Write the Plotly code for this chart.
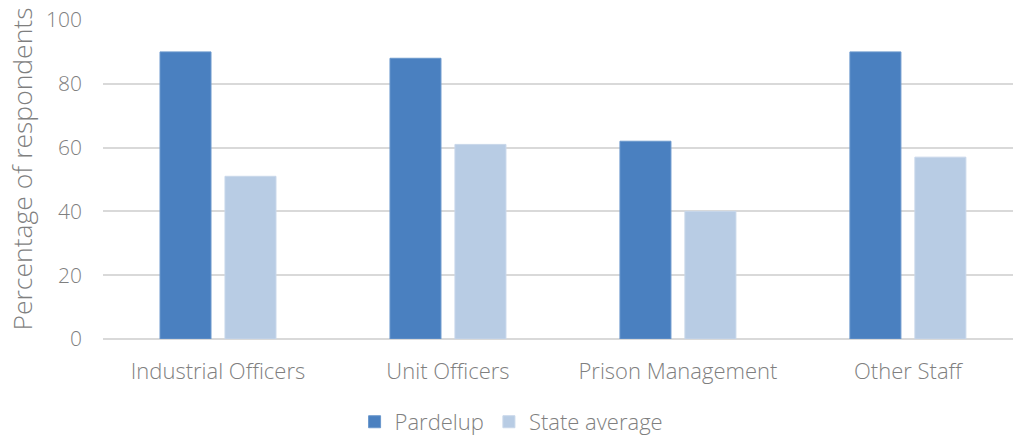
import plotly.graph_objects as go

categories = ["Industrial Officers", "Unit Officers", "Prison Management", "Other Staff"]
pardelup = [90, 88, 62, 90]
state_avg = [51, 61, 40, 57]
y_ticks = [0, 20, 40, 60, 80, 100]
y_title = "Percentage of respondents"

text_color = "#7f7f7f"
font_family = "Open Sans"
fs = 22

fig = go.Figure()
fig.add_trace(go.Bar(x=categories, y=pardelup, name="Pardelup",
                     marker=dict(color="#4a80c0", line=dict(color="#6a97cc", width=1))))
fig.add_trace(go.Bar(x=categories, y=state_avg, name="State average",
                     marker=dict(color="#b8cce4", line=dict(color="#c8d7ea", width=1))))

fig.add_annotation(text=y_title, textangle=-90, xref="paper", yref="paper",
                   x=-(103 - 21.5) / 910, y=(339 - 169) / 319,
                   xanchor="center", yanchor="middle", showarrow=False,
                   font=dict(size=26.5, color=text_color, family=font_family, weight=300))

fig.update_layout(
    width=1013, height=437,
    margin=dict(l=103, r=0, t=20, b=98, autoexpand=False),
    paper_bgcolor="white", plot_bgcolor="white",
    barmode="group", bargap=0.435, bargroupgap=0.215,
    font=dict(family=font_family, size=fs, color=text_color, weight=300),
    showlegend=True,
    legend=dict(orientation="h", x=0.449, xanchor="center", y=-0.26, yanchor="middle",
                font=dict(size=fs, color=text_color, weight=300), itemwidth=30),
    xaxis=dict(type="category", range=[-0.5, 3.457], showgrid=False, showline=False,
               automargin=False, ticks="", ticklabelstandoff=17,
               tickfont=dict(size=fs, color=text_color, weight=300)),
    yaxis=dict(range=[0, 100], tickvals=y_ticks, showgrid=True, gridcolor="#d9d9d9",
               gridwidth=1.5, zeroline=True, zerolinecolor="#d9d9d9", zerolinewidth=1.5,
               showline=False, ticks="", ticklabelstandoff=20, automargin=False,
               tickfont=dict(size=21, color=text_color, weight=300)),
)

fig.write_html("out.html", config={"displayModeBar": False},
               post_script="document.body.style.margin='0';document.body.style.padding='0';")
